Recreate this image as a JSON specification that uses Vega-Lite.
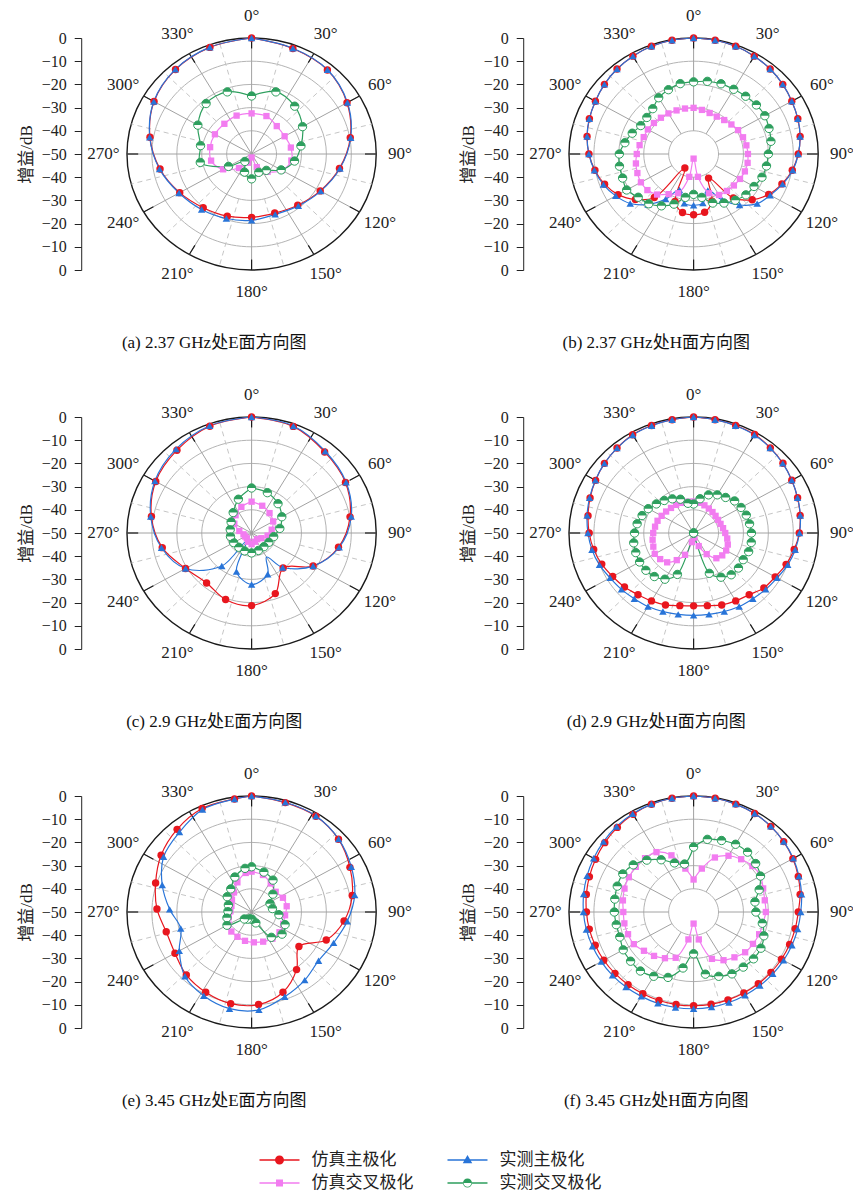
{
"$schema":"https://vega.github.io/schema/vega-lite/v6.json",
"background":"white",
"padding":{"left":17,"top":6,"right":2,"bottom":2},
"config":{
 "view":{"stroke":null},
 "font":"Liberation Serif, Noto Sans CJK SC",
 "axisX":{"disable":true},
 "axisY":{"grid":false,"labelOverlap":false,"domainColor":"#222","tickColor":"#222","tickSize":7,"labelFontSize":16,"labelColor":"#222","labelPadding":8,"titleFontSize":17,"titleFontWeight":"normal","titleColor":"#222","titlePadding":6,"labelFont":"Liberation Serif","titleFont":"Liberation Serif, Noto Sans CJK SC"},
 "header":{"labelFontSize":17,"labelColor":"#111","labelFont":"Liberation Serif, Noto Sans CJK SC"}
},
"datasets":{
"L":[{"s":"SM","src":"仿真","pol":"主极化"},{"s":"MM","src":"实测","pol":"主极化"},{"s":"SX","src":"仿真","pol":"交叉极化"},{"s":"MX","src":"实测","pol":"交叉极化"}],
"d":[
{"p":"a","k":"R","g":0},{"p":"a","k":"R","g":-10},{"p":"a","k":"R","g":-20},{"p":"a","k":"R","g":-30},{"p":"a","k":"R","g":-40},
{"p":"a","k":"S","a":0},{"p":"a","k":"S","a":15},{"p":"a","k":"S","a":30},{"p":"a","k":"S","a":45},{"p":"a","k":"S","a":60},{"p":"a","k":"S","a":75},{"p":"a","k":"S","a":90},{"p":"a","k":"S","a":105},{"p":"a","k":"S","a":120},{"p":"a","k":"S","a":135},{"p":"a","k":"S","a":150},{"p":"a","k":"S","a":165},{"p":"a","k":"S","a":180},{"p":"a","k":"S","a":195},{"p":"a","k":"S","a":210},{"p":"a","k":"S","a":225},{"p":"a","k":"S","a":240},{"p":"a","k":"S","a":255},{"p":"a","k":"S","a":270},{"p":"a","k":"S","a":285},{"p":"a","k":"S","a":300},{"p":"a","k":"S","a":315},{"p":"a","k":"S","a":330},{"p":"a","k":"S","a":345},
{"p":"b","k":"R","g":0},{"p":"b","k":"R","g":-10},{"p":"b","k":"R","g":-20},{"p":"b","k":"R","g":-30},{"p":"b","k":"R","g":-40},
{"p":"b","k":"S","a":0},{"p":"b","k":"S","a":15},{"p":"b","k":"S","a":30},{"p":"b","k":"S","a":45},{"p":"b","k":"S","a":60},{"p":"b","k":"S","a":75},{"p":"b","k":"S","a":90},{"p":"b","k":"S","a":105},{"p":"b","k":"S","a":120},{"p":"b","k":"S","a":135},{"p":"b","k":"S","a":150},{"p":"b","k":"S","a":165},{"p":"b","k":"S","a":180},{"p":"b","k":"S","a":195},{"p":"b","k":"S","a":210},{"p":"b","k":"S","a":225},{"p":"b","k":"S","a":240},{"p":"b","k":"S","a":255},{"p":"b","k":"S","a":270},{"p":"b","k":"S","a":285},{"p":"b","k":"S","a":300},{"p":"b","k":"S","a":315},{"p":"b","k":"S","a":330},{"p":"b","k":"S","a":345},
{"p":"c","k":"R","g":0},{"p":"c","k":"R","g":-10},{"p":"c","k":"R","g":-20},{"p":"c","k":"R","g":-30},{"p":"c","k":"R","g":-40},
{"p":"c","k":"S","a":0},{"p":"c","k":"S","a":15},{"p":"c","k":"S","a":30},{"p":"c","k":"S","a":45},{"p":"c","k":"S","a":60},{"p":"c","k":"S","a":75},{"p":"c","k":"S","a":90},{"p":"c","k":"S","a":105},{"p":"c","k":"S","a":120},{"p":"c","k":"S","a":135},{"p":"c","k":"S","a":150},{"p":"c","k":"S","a":165},{"p":"c","k":"S","a":180},{"p":"c","k":"S","a":195},{"p":"c","k":"S","a":210},{"p":"c","k":"S","a":225},{"p":"c","k":"S","a":240},{"p":"c","k":"S","a":255},{"p":"c","k":"S","a":270},{"p":"c","k":"S","a":285},{"p":"c","k":"S","a":300},{"p":"c","k":"S","a":315},{"p":"c","k":"S","a":330},{"p":"c","k":"S","a":345},
{"p":"d","k":"R","g":0},{"p":"d","k":"R","g":-10},{"p":"d","k":"R","g":-20},{"p":"d","k":"R","g":-30},{"p":"d","k":"R","g":-40},
{"p":"d","k":"S","a":0},{"p":"d","k":"S","a":15},{"p":"d","k":"S","a":30},{"p":"d","k":"S","a":45},{"p":"d","k":"S","a":60},{"p":"d","k":"S","a":75},{"p":"d","k":"S","a":90},{"p":"d","k":"S","a":105},{"p":"d","k":"S","a":120},{"p":"d","k":"S","a":135},{"p":"d","k":"S","a":150},{"p":"d","k":"S","a":165},{"p":"d","k":"S","a":180},{"p":"d","k":"S","a":195},{"p":"d","k":"S","a":210},{"p":"d","k":"S","a":225},{"p":"d","k":"S","a":240},{"p":"d","k":"S","a":255},{"p":"d","k":"S","a":270},{"p":"d","k":"S","a":285},{"p":"d","k":"S","a":300},{"p":"d","k":"S","a":315},{"p":"d","k":"S","a":330},{"p":"d","k":"S","a":345},
{"p":"e","k":"R","g":0},{"p":"e","k":"R","g":-10},{"p":"e","k":"R","g":-20},{"p":"e","k":"R","g":-30},{"p":"e","k":"R","g":-40},
{"p":"e","k":"S","a":0},{"p":"e","k":"S","a":15},{"p":"e","k":"S","a":30},{"p":"e","k":"S","a":45},{"p":"e","k":"S","a":60},{"p":"e","k":"S","a":75},{"p":"e","k":"S","a":90},{"p":"e","k":"S","a":105},{"p":"e","k":"S","a":120},{"p":"e","k":"S","a":135},{"p":"e","k":"S","a":150},{"p":"e","k":"S","a":165},{"p":"e","k":"S","a":180},{"p":"e","k":"S","a":195},{"p":"e","k":"S","a":210},{"p":"e","k":"S","a":225},{"p":"e","k":"S","a":240},{"p":"e","k":"S","a":255},{"p":"e","k":"S","a":270},{"p":"e","k":"S","a":285},{"p":"e","k":"S","a":300},{"p":"e","k":"S","a":315},{"p":"e","k":"S","a":330},{"p":"e","k":"S","a":345},
{"p":"f","k":"R","g":0},{"p":"f","k":"R","g":-10},{"p":"f","k":"R","g":-20},{"p":"f","k":"R","g":-30},{"p":"f","k":"R","g":-40},
{"p":"f","k":"S","a":0},{"p":"f","k":"S","a":15},{"p":"f","k":"S","a":30},{"p":"f","k":"S","a":45},{"p":"f","k":"S","a":60},{"p":"f","k":"S","a":75},{"p":"f","k":"S","a":90},{"p":"f","k":"S","a":105},{"p":"f","k":"S","a":120},{"p":"f","k":"S","a":135},{"p":"f","k":"S","a":150},{"p":"f","k":"S","a":165},{"p":"f","k":"S","a":180},{"p":"f","k":"S","a":195},{"p":"f","k":"S","a":210},{"p":"f","k":"S","a":225},{"p":"f","k":"S","a":240},{"p":"f","k":"S","a":255},{"p":"f","k":"S","a":270},{"p":"f","k":"S","a":285},{"p":"f","k":"S","a":300},{"p":"f","k":"S","a":315},{"p":"f","k":"S","a":330},{"p":"f","k":"S","a":345},

{"p":"a","s":"SM","a":0,"g":0},{"p":"a","s":"SM","a":20,"g":-1.6},{"p":"a","s":"SM","a":40,"g":-2.7},{"p":"a","s":"SM","a":60,"g":-5.8},{"p":"a","s":"SM","a":80,"g":-9.8},{"p":"a","s":"SM","a":100,"g":-14.2},{"p":"a","s":"SM","a":120,"g":-18.2},{"p":"a","s":"SM","a":140,"g":-21.2},{"p":"a","s":"SM","a":160,"g":-22.9},{"p":"a","s":"SM","a":180,"g":-22.7},{"p":"a","s":"SM","a":200,"g":-21.5},{"p":"a","s":"SM","a":220,"g":-19.8},{"p":"a","s":"SM","a":240,"g":-16.7},{"p":"a","s":"SM","a":260,"g":-12.7},{"p":"a","s":"SM","a":280,"g":-8.6},{"p":"a","s":"SM","a":300,"g":-4.8},{"p":"a","s":"SM","a":320,"g":-2.5},{"p":"a","s":"SM","a":340,"g":-1.1},{"p":"a","s":"SM","a":360,"g":0},
{"p":"a","s":"MM","a":0,"g":0},{"p":"a","s":"MM","a":20,"g":-1.5},{"p":"a","s":"MM","a":40,"g":-2.6},{"p":"a","s":"MM","a":60,"g":-5.6},{"p":"a","s":"MM","a":80,"g":-9.6},{"p":"a","s":"MM","a":100,"g":-14},{"p":"a","s":"MM","a":120,"g":-18},{"p":"a","s":"MM","a":140,"g":-20.8},{"p":"a","s":"MM","a":160,"g":-22.3},{"p":"a","s":"MM","a":180,"g":-21.4},{"p":"a","s":"MM","a":200,"g":-20.4},{"p":"a","s":"MM","a":220,"g":-18.8},{"p":"a","s":"MM","a":240,"g":-16.4},{"p":"a","s":"MM","a":260,"g":-12.5},{"p":"a","s":"MM","a":280,"g":-8.5},{"p":"a","s":"MM","a":300,"g":-4.7},{"p":"a","s":"MM","a":320,"g":-2.4},{"p":"a","s":"MM","a":340,"g":-1},{"p":"a","s":"MM","a":360,"g":0},
{"p":"a","s":"SX","a":0,"g":-32.5},{"p":"a","s":"SX","a":20,"g":-32.6},{"p":"a","s":"SX","a":40,"g":-34.3},{"p":"a","s":"SX","a":60,"g":-34.7},{"p":"a","s":"SX","a":80,"g":-34},{"p":"a","s":"SX","a":100,"g":-33.8},{"p":"a","s":"SX","a":120,"g":-36},{"p":"a","s":"SX","a":140,"g":-40},{"p":"a","s":"SX","a":160,"g":-44},{"p":"a","s":"SX","a":180,"g":-48.5},{"p":"a","s":"SX","a":200,"g":-46},{"p":"a","s":"SX","a":220,"g":-42.1},{"p":"a","s":"SX","a":240,"g":-36.8},{"p":"a","s":"SX","a":260,"g":-33.5},{"p":"a","s":"SX","a":280,"g":-33.1},{"p":"a","s":"SX","a":300,"g":-33},{"p":"a","s":"SX","a":320,"g":-33},{"p":"a","s":"SX","a":340,"g":-32.4},{"p":"a","s":"SX","a":360,"g":-32.5},
{"p":"a","s":"MX","a":0,"g":-25},{"p":"a","s":"MX","a":20,"g":-21.5},{"p":"a","s":"MX","a":40,"g":-23.1},{"p":"a","s":"MX","a":60,"g":-26.4},{"p":"a","s":"MX","a":80,"g":-29.9},{"p":"a","s":"MX","a":100,"g":-32.5},{"p":"a","s":"MX","a":120,"g":-36.3},{"p":"a","s":"MX","a":140,"g":-40.8},{"p":"a","s":"MX","a":160,"g":-41.6},{"p":"a","s":"MX","a":180,"g":-39.3},{"p":"a","s":"MX","a":200,"g":-41.7},{"p":"a","s":"MX","a":220,"g":-45.8},{"p":"a","s":"MX","a":240,"g":-39.3},{"p":"a","s":"MX","a":260,"g":-29.1},{"p":"a","s":"MX","a":280,"g":-29.2},{"p":"a","s":"MX","a":300,"g":-25.1},{"p":"a","s":"MX","a":320,"g":-21.6},{"p":"a","s":"MX","a":340,"g":-21.5},{"p":"a","s":"MX","a":360,"g":-25},

{"p":"b","s":"SM","a":0,"g":0},{"p":"b","s":"SM","a":10,"g":-0.2},{"p":"b","s":"SM","a":20,"g":-0.6},{"p":"b","s":"SM","a":30,"g":-1.3},{"p":"b","s":"SM","a":40,"g":-2.2},{"p":"b","s":"SM","a":50,"g":-3.3},{"p":"b","s":"SM","a":60,"g":-4.5},{"p":"b","s":"SM","a":70,"g":-5.5},{"p":"b","s":"SM","a":80,"g":-6.6},{"p":"b","s":"SM","a":90,"g":-8},{"p":"b","s":"SM","a":100,"g":-9.8},{"p":"b","s":"SM","a":110,"g":-12.3},{"p":"b","s":"SM","a":120,"g":-15.2},{"p":"b","s":"SM","a":130,"g":-19.3},{"p":"b","s":"SM","a":140,"g":-25.2},{"p":"b","s":"SM","a":150,"g":-38},{"p":"b","s":"SM","a":160,"g":-28.4},{"p":"b","s":"SM","a":170,"g":-24.5},{"p":"b","s":"SM","a":180,"g":-23.8},{"p":"b","s":"SM","a":190,"g":-24.4},{"p":"b","s":"SM","a":200,"g":-28.2},{"p":"b","s":"SM","a":210,"g":-43},{"p":"b","s":"SM","a":220,"g":-25.5},{"p":"b","s":"SM","a":230,"g":-19.5},{"p":"b","s":"SM","a":240,"g":-15},{"p":"b","s":"SM","a":250,"g":-12},{"p":"b","s":"SM","a":260,"g":-9.8},{"p":"b","s":"SM","a":270,"g":-8},{"p":"b","s":"SM","a":280,"g":-6.6},{"p":"b","s":"SM","a":290,"g":-5.5},{"p":"b","s":"SM","a":300,"g":-4.5},{"p":"b","s":"SM","a":310,"g":-3.3},{"p":"b","s":"SM","a":320,"g":-2.2},{"p":"b","s":"SM","a":330,"g":-1.3},{"p":"b","s":"SM","a":340,"g":-0.6},{"p":"b","s":"SM","a":350,"g":-0.2},{"p":"b","s":"SM","a":360,"g":0},
{"p":"b","s":"MM","a":0,"g":0},{"p":"b","s":"MM","a":10,"g":-0.2},{"p":"b","s":"MM","a":20,"g":-0.6},{"p":"b","s":"MM","a":30,"g":-1.3},{"p":"b","s":"MM","a":40,"g":-2.2},{"p":"b","s":"MM","a":50,"g":-3.3},{"p":"b","s":"MM","a":60,"g":-4.5},{"p":"b","s":"MM","a":70,"g":-5.5},{"p":"b","s":"MM","a":80,"g":-6.6},{"p":"b","s":"MM","a":90,"g":-8},{"p":"b","s":"MM","a":100,"g":-9.6},{"p":"b","s":"MM","a":110,"g":-12},{"p":"b","s":"MM","a":120,"g":-14.5},{"p":"b","s":"MM","a":130,"g":-16.7},{"p":"b","s":"MM","a":140,"g":-21.3},{"p":"b","s":"MM","a":150,"g":-27.1},{"p":"b","s":"MM","a":160,"g":-33.3},{"p":"b","s":"MM","a":170,"g":-28.5},{"p":"b","s":"MM","a":180,"g":-27.9},{"p":"b","s":"MM","a":190,"g":-28.4},{"p":"b","s":"MM","a":200,"g":-33.5},{"p":"b","s":"MM","a":210,"g":-27.6},{"p":"b","s":"MM","a":220,"g":-21.6},{"p":"b","s":"MM","a":230,"g":-16.8},{"p":"b","s":"MM","a":240,"g":-13.9},{"p":"b","s":"MM","a":250,"g":-11.5},{"p":"b","s":"MM","a":260,"g":-9.6},{"p":"b","s":"MM","a":270,"g":-8},{"p":"b","s":"MM","a":280,"g":-6.6},{"p":"b","s":"MM","a":290,"g":-5.5},{"p":"b","s":"MM","a":300,"g":-4.5},{"p":"b","s":"MM","a":310,"g":-3.3},{"p":"b","s":"MM","a":320,"g":-2.2},{"p":"b","s":"MM","a":330,"g":-1.3},{"p":"b","s":"MM","a":340,"g":-0.6},{"p":"b","s":"MM","a":350,"g":-0.2},{"p":"b","s":"MM","a":360,"g":0},
{"p":"b","s":"SX","a":0,"g":-30.1},{"p":"b","s":"SX","a":10,"g":-30.7},{"p":"b","s":"SX","a":20,"g":-31.2},{"p":"b","s":"SX","a":30,"g":-31.4},{"p":"b","s":"SX","a":40,"g":-30.9},{"p":"b","s":"SX","a":50,"g":-30.2},{"p":"b","s":"SX","a":60,"g":-29.4},{"p":"b","s":"SX","a":70,"g":-28.9},{"p":"b","s":"SX","a":80,"g":-28.5},{"p":"b","s":"SX","a":90,"g":-28.2},{"p":"b","s":"SX","a":100,"g":-28},{"p":"b","s":"SX","a":110,"g":-28.1},{"p":"b","s":"SX","a":120,"g":-28.5},{"p":"b","s":"SX","a":130,"g":-28.9},{"p":"b","s":"SX","a":140,"g":-29.2},{"p":"b","s":"SX","a":150,"g":-29.6},{"p":"b","s":"SX","a":160,"g":-32},{"p":"b","s":"SX","a":170,"g":-40},{"p":"b","s":"SX","a":180,"g":-48},{"p":"b","s":"SX","a":190,"g":-40},{"p":"b","s":"SX","a":200,"g":-32},{"p":"b","s":"SX","a":210,"g":-30},{"p":"b","s":"SX","a":220,"g":-27.2},{"p":"b","s":"SX","a":230,"g":-25.8},{"p":"b","s":"SX","a":240,"g":-25.6},{"p":"b","s":"SX","a":250,"g":-26},{"p":"b","s":"SX","a":260,"g":-26.5},{"p":"b","s":"SX","a":270,"g":-27.2},{"p":"b","s":"SX","a":280,"g":-28},{"p":"b","s":"SX","a":290,"g":-28.7},{"p":"b","s":"SX","a":300,"g":-28.8},{"p":"b","s":"SX","a":310,"g":-29.2},{"p":"b","s":"SX","a":320,"g":-29.6},{"p":"b","s":"SX","a":330,"g":-29.8},{"p":"b","s":"SX","a":340,"g":-30},{"p":"b","s":"SX","a":350,"g":-30.1},{"p":"b","s":"SX","a":360,"g":-30.1},
{"p":"b","s":"MX","a":0,"g":-18.9},{"p":"b","s":"MX","a":10,"g":-18.2},{"p":"b","s":"MX","a":20,"g":-17.8},{"p":"b","s":"MX","a":30,"g":-17.8},{"p":"b","s":"MX","a":40,"g":-17.5},{"p":"b","s":"MX","a":50,"g":-17.1},{"p":"b","s":"MX","a":60,"g":-17},{"p":"b","s":"MX","a":70,"g":-17.8},{"p":"b","s":"MX","a":80,"g":-18.5},{"p":"b","s":"MX","a":90,"g":-20},{"p":"b","s":"MX","a":100,"g":-20.3},{"p":"b","s":"MX","a":110,"g":-20.8},{"p":"b","s":"MX","a":120,"g":-22},{"p":"b","s":"MX","a":130,"g":-22.6},{"p":"b","s":"MX","a":140,"g":-24},{"p":"b","s":"MX","a":150,"g":-25.6},{"p":"b","s":"MX","a":160,"g":-27.5},{"p":"b","s":"MX","a":170,"g":-31},{"p":"b","s":"MX","a":180,"g":-32.6},{"p":"b","s":"MX","a":190,"g":-31},{"p":"b","s":"MX","a":200,"g":-27},{"p":"b","s":"MX","a":210,"g":-24.2},{"p":"b","s":"MX","a":220,"g":-22},{"p":"b","s":"MX","a":230,"g":-21},{"p":"b","s":"MX","a":240,"g":-19},{"p":"b","s":"MX","a":250,"g":-19.7},{"p":"b","s":"MX","a":260,"g":-19.8},{"p":"b","s":"MX","a":270,"g":-20.2},{"p":"b","s":"MX","a":280,"g":-22},{"p":"b","s":"MX","a":290,"g":-23.8},{"p":"b","s":"MX","a":300,"g":-25.5},{"p":"b","s":"MX","a":310,"g":-25.5},{"p":"b","s":"MX","a":320,"g":-24.5},{"p":"b","s":"MX","a":330,"g":-22},{"p":"b","s":"MX","a":340,"g":-20.5},{"p":"b","s":"MX","a":350,"g":-19.2},{"p":"b","s":"MX","a":360,"g":-18.9},

{"p":"c","s":"SM","a":0,"g":0},{"p":"c","s":"SM","a":20,"g":-1.1},{"p":"c","s":"SM","a":40,"g":-4.4},{"p":"c","s":"SM","a":60,"g":-6.5},{"p":"c","s":"SM","a":80,"g":-9.9},{"p":"c","s":"SM","a":100,"g":-14.6},{"p":"c","s":"SM","a":120,"g":-21.5},{"p":"c","s":"SM","a":140,"g":-30.3},{"p":"c","s":"SM","a":160,"g":-22.2},{"p":"c","s":"SM","a":180,"g":-18.7},{"p":"c","s":"SM","a":200,"g":-19.5},{"p":"c","s":"SM","a":220,"g":-21.9},{"p":"c","s":"SM","a":240,"g":-19.4},{"p":"c","s":"SM","a":260,"g":-13.6},{"p":"c","s":"SM","a":280,"g":-9.2},{"p":"c","s":"SM","a":300,"g":-5.6},{"p":"c","s":"SM","a":320,"g":-3.4},{"p":"c","s":"SM","a":340,"g":-1},{"p":"c","s":"SM","a":360,"g":0},
{"p":"c","s":"MM","a":0,"g":0},{"p":"c","s":"MM","a":20,"g":-0.9},{"p":"c","s":"MM","a":40,"g":-4},{"p":"c","s":"MM","a":60,"g":-6.2},{"p":"c","s":"MM","a":80,"g":-9.4},{"p":"c","s":"MM","a":100,"g":-14.3},{"p":"c","s":"MM","a":120,"g":-21.5},{"p":"c","s":"MM","a":140,"g":-30.6},{"p":"c","s":"MM","a":150,"g":-38},{"p":"c","s":"MM","a":160,"g":-31.1},{"p":"c","s":"MM","a":180,"g":-27.8},{"p":"c","s":"MM","a":200,"g":-32.3},{"p":"c","s":"MM","a":210,"g":-46},{"p":"c","s":"MM","a":220,"g":-31.4},{"p":"c","s":"MM","a":240,"g":-19.4},{"p":"c","s":"MM","a":260,"g":-13.3},{"p":"c","s":"MM","a":280,"g":-8.9},{"p":"c","s":"MM","a":300,"g":-5.2},{"p":"c","s":"MM","a":320,"g":-2.8},{"p":"c","s":"MM","a":340,"g":-0.8},{"p":"c","s":"MM","a":360,"g":0},
{"p":"c","s":"SX","a":0,"g":-36.5},{"p":"c","s":"SX","a":20,"g":-37.5},{"p":"c","s":"SX","a":40,"g":-38.8},{"p":"c","s":"SX","a":60,"g":-40},{"p":"c","s":"SX","a":80,"g":-41.8},{"p":"c","s":"SX","a":100,"g":-43.5},{"p":"c","s":"SX","a":120,"g":-45.5},{"p":"c","s":"SX","a":140,"g":-46.5},{"p":"c","s":"SX","a":160,"g":-46},{"p":"c","s":"SX","a":180,"g":-45.2},{"p":"c","s":"SX","a":200,"g":-46},{"p":"c","s":"SX","a":220,"g":-47},{"p":"c","s":"SX","a":240,"g":-47},{"p":"c","s":"SX","a":260,"g":-46.7},{"p":"c","s":"SX","a":280,"g":-45},{"p":"c","s":"SX","a":300,"g":-42},{"p":"c","s":"SX","a":320,"g":-40},{"p":"c","s":"SX","a":340,"g":-38},{"p":"c","s":"SX","a":360,"g":-36.5},
{"p":"c","s":"MX","a":0,"g":-30.6},{"p":"c","s":"MX","a":20,"g":-31.5},{"p":"c","s":"MX","a":40,"g":-33.5},{"p":"c","s":"MX","a":60,"g":-36},{"p":"c","s":"MX","a":80,"g":-38.5},{"p":"c","s":"MX","a":100,"g":-41},{"p":"c","s":"MX","a":120,"g":-42},{"p":"c","s":"MX","a":140,"g":-42.3},{"p":"c","s":"MX","a":160,"g":-42},{"p":"c","s":"MX","a":180,"g":-41.4},{"p":"c","s":"MX","a":200,"g":-41.8},{"p":"c","s":"MX","a":220,"g":-42},{"p":"c","s":"MX","a":240,"g":-41.7},{"p":"c","s":"MX","a":260,"g":-41.4},{"p":"c","s":"MX","a":280,"g":-41.3},{"p":"c","s":"MX","a":300,"g":-40.5},{"p":"c","s":"MX","a":320,"g":-38.5},{"p":"c","s":"MX","a":340,"g":-34.5},{"p":"c","s":"MX","a":360,"g":-30.6},

{"p":"d","s":"SM","a":0,"g":0},{"p":"d","s":"SM","a":10,"g":-0.4},{"p":"d","s":"SM","a":20,"g":-0.7},{"p":"d","s":"SM","a":30,"g":-1},{"p":"d","s":"SM","a":40,"g":-2.1},{"p":"d","s":"SM","a":50,"g":-3.2},{"p":"d","s":"SM","a":60,"g":-4.5},{"p":"d","s":"SM","a":70,"g":-5.6},{"p":"d","s":"SM","a":80,"g":-6.6},{"p":"d","s":"SM","a":90,"g":-7.6},{"p":"d","s":"SM","a":100,"g":-9},{"p":"d","s":"SM","a":110,"g":-10.5},{"p":"d","s":"SM","a":120,"g":-12.2},{"p":"d","s":"SM","a":130,"g":-13.2},{"p":"d","s":"SM","a":140,"g":-15.3},{"p":"d","s":"SM","a":150,"g":-16.2},{"p":"d","s":"SM","a":160,"g":-17},{"p":"d","s":"SM","a":170,"g":-18.2},{"p":"d","s":"SM","a":180,"g":-18.6},{"p":"d","s":"SM","a":190,"g":-18.2},{"p":"d","s":"SM","a":200,"g":-17},{"p":"d","s":"SM","a":210,"g":-16.2},{"p":"d","s":"SM","a":220,"g":-15.3},{"p":"d","s":"SM","a":230,"g":-13.8},{"p":"d","s":"SM","a":240,"g":-12.5},{"p":"d","s":"SM","a":250,"g":-10.8},{"p":"d","s":"SM","a":260,"g":-9.3},{"p":"d","s":"SM","a":270,"g":-8.1},{"p":"d","s":"SM","a":280,"g":-7},{"p":"d","s":"SM","a":290,"g":-5.8},{"p":"d","s":"SM","a":300,"g":-4.6},{"p":"d","s":"SM","a":310,"g":-3.3},{"p":"d","s":"SM","a":320,"g":-2.2},{"p":"d","s":"SM","a":330,"g":-1.1},{"p":"d","s":"SM","a":340,"g":-0.7},{"p":"d","s":"SM","a":350,"g":-0.4},{"p":"d","s":"SM","a":360,"g":0},
{"p":"d","s":"MM","a":0,"g":0},{"p":"d","s":"MM","a":10,"g":-0.4},{"p":"d","s":"MM","a":20,"g":-0.8},{"p":"d","s":"MM","a":30,"g":-1.2},{"p":"d","s":"MM","a":40,"g":-2.2},{"p":"d","s":"MM","a":50,"g":-3.3},{"p":"d","s":"MM","a":60,"g":-4.5},{"p":"d","s":"MM","a":70,"g":-5.6},{"p":"d","s":"MM","a":80,"g":-6.5},{"p":"d","s":"MM","a":90,"g":-7.5},{"p":"d","s":"MM","a":100,"g":-8.6},{"p":"d","s":"MM","a":110,"g":-9.8},{"p":"d","s":"MM","a":120,"g":-11.3},{"p":"d","s":"MM","a":130,"g":-12.2},{"p":"d","s":"MM","a":140,"g":-13},{"p":"d","s":"MM","a":150,"g":-13.4},{"p":"d","s":"MM","a":160,"g":-14},{"p":"d","s":"MM","a":170,"g":-14.4},{"p":"d","s":"MM","a":180,"g":-14.5},{"p":"d","s":"MM","a":190,"g":-14.4},{"p":"d","s":"MM","a":200,"g":-14},{"p":"d","s":"MM","a":210,"g":-13.4},{"p":"d","s":"MM","a":220,"g":-13},{"p":"d","s":"MM","a":230,"g":-12.2},{"p":"d","s":"MM","a":240,"g":-11.3},{"p":"d","s":"MM","a":250,"g":-9.8},{"p":"d","s":"MM","a":260,"g":-8.6},{"p":"d","s":"MM","a":270,"g":-7.6},{"p":"d","s":"MM","a":280,"g":-6.6},{"p":"d","s":"MM","a":290,"g":-5.6},{"p":"d","s":"MM","a":300,"g":-4.5},{"p":"d","s":"MM","a":310,"g":-3.3},{"p":"d","s":"MM","a":320,"g":-2.2},{"p":"d","s":"MM","a":330,"g":-1.2},{"p":"d","s":"MM","a":340,"g":-0.8},{"p":"d","s":"MM","a":350,"g":-0.4},{"p":"d","s":"MM","a":360,"g":0},
{"p":"d","s":"SX","a":0,"g":-36.4},{"p":"d","s":"SX","a":10,"g":-36.8},{"p":"d","s":"SX","a":20,"g":-37.3},{"p":"d","s":"SX","a":30,"g":-37.8},{"p":"d","s":"SX","a":40,"g":-38.2},{"p":"d","s":"SX","a":50,"g":-38.5},{"p":"d","s":"SX","a":60,"g":-38.7},{"p":"d","s":"SX","a":70,"g":-38.5},{"p":"d","s":"SX","a":80,"g":-38},{"p":"d","s":"SX","a":90,"g":-37.3},{"p":"d","s":"SX","a":100,"g":-36.3},{"p":"d","s":"SX","a":110,"g":-35.4},{"p":"d","s":"SX","a":120,"g":-34.9},{"p":"d","s":"SX","a":130,"g":-35},{"p":"d","s":"SX","a":140,"g":-35.8},{"p":"d","s":"SX","a":150,"g":-39.5},{"p":"d","s":"SX","a":160,"g":-44},{"p":"d","s":"SX","a":170,"g":-48},{"p":"d","s":"SX","a":180,"g":-50},{"p":"d","s":"SX","a":190,"g":-46},{"p":"d","s":"SX","a":200,"g":-40},{"p":"d","s":"SX","a":210,"g":-36.5},{"p":"d","s":"SX","a":220,"g":-33.5},{"p":"d","s":"SX","a":230,"g":-32.5},{"p":"d","s":"SX","a":240,"g":-32},{"p":"d","s":"SX","a":250,"g":-32.8},{"p":"d","s":"SX","a":260,"g":-33.3},{"p":"d","s":"SX","a":270,"g":-33.8},{"p":"d","s":"SX","a":280,"g":-34.3},{"p":"d","s":"SX","a":290,"g":-34.6},{"p":"d","s":"SX","a":300,"g":-35.2},{"p":"d","s":"SX","a":310,"g":-35.6},{"p":"d","s":"SX","a":320,"g":-35.9},{"p":"d","s":"SX","a":330,"g":-36},{"p":"d","s":"SX","a":340,"g":-36.2},{"p":"d","s":"SX","a":350,"g":-36.3},{"p":"d","s":"SX","a":360,"g":-36.4},
{"p":"d","s":"MX","a":0,"g":-37.5},{"p":"d","s":"MX","a":10,"g":-35},{"p":"d","s":"MX","a":20,"g":-32.5},{"p":"d","s":"MX","a":30,"g":-31},{"p":"d","s":"MX","a":40,"g":-30},{"p":"d","s":"MX","a":50,"g":-28.5},{"p":"d","s":"MX","a":60,"g":-28},{"p":"d","s":"MX","a":70,"g":-27.5},{"p":"d","s":"MX","a":80,"g":-27.2},{"p":"d","s":"MX","a":90,"g":-26.8},{"p":"d","s":"MX","a":100,"g":-26.5},{"p":"d","s":"MX","a":110,"g":-26.5},{"p":"d","s":"MX","a":120,"g":-27},{"p":"d","s":"MX","a":130,"g":-26.5},{"p":"d","s":"MX","a":140,"g":-26.5},{"p":"d","s":"MX","a":150,"g":-28},{"p":"d","s":"MX","a":160,"g":-31.5},{"p":"d","s":"MX","a":170,"g":-50},{"p":"d","s":"MX","a":180,"g":-50},{"p":"d","s":"MX","a":190,"g":-50},{"p":"d","s":"MX","a":200,"g":-31},{"p":"d","s":"MX","a":210,"g":-27},{"p":"d","s":"MX","a":220,"g":-25.5},{"p":"d","s":"MX","a":230,"g":-25},{"p":"d","s":"MX","a":240,"g":-25},{"p":"d","s":"MX","a":250,"g":-25.3},{"p":"d","s":"MX","a":260,"g":-25.6},{"p":"d","s":"MX","a":270,"g":-26.3},{"p":"d","s":"MX","a":280,"g":-27},{"p":"d","s":"MX","a":290,"g":-28},{"p":"d","s":"MX","a":300,"g":-29},{"p":"d","s":"MX","a":310,"g":-30.5},{"p":"d","s":"MX","a":320,"g":-31.7},{"p":"d","s":"MX","a":330,"g":-33},{"p":"d","s":"MX","a":340,"g":-34.5},{"p":"d","s":"MX","a":350,"g":-37},{"p":"d","s":"MX","a":360,"g":-37.5},

{"p":"e","s":"SM","a":0,"g":0},{"p":"e","s":"SM","a":16,"g":-0.95},{"p":"e","s":"SM","a":32,"g":-1.3},{"p":"e","s":"SM","a":48,"g":-3.1},{"p":"e","s":"SM","a":64,"g":-6.1},{"p":"e","s":"SM","a":80,"g":-9},{"p":"e","s":"SM","a":96,"g":-12.7},{"p":"e","s":"SM","a":112,"g":-17.7},{"p":"e","s":"SM","a":128,"g":-25.9},{"p":"e","s":"SM","a":144,"g":-19.3},{"p":"e","s":"SM","a":160,"g":-13.2},{"p":"e","s":"SM","a":176,"g":-10},{"p":"e","s":"SM","a":192,"g":-9.6},{"p":"e","s":"SM","a":208,"g":-10.8},{"p":"e","s":"SM","a":224,"g":-12.3},{"p":"e","s":"SM","a":240,"g":-14.5},{"p":"e","s":"SM","a":256,"g":-14.7},{"p":"e","s":"SM","a":272,"g":-12},{"p":"e","s":"SM","a":288,"g":-9.5},{"p":"e","s":"SM","a":304,"g":-6.2},{"p":"e","s":"SM","a":320,"g":-3.5},{"p":"e","s":"SM","a":336,"g":-1.2},{"p":"e","s":"SM","a":352,"g":-0.8},{"p":"e","s":"SM","a":360,"g":0},
{"p":"e","s":"MM","a":0,"g":0},{"p":"e","s":"MM","a":16,"g":-0.8},{"p":"e","s":"MM","a":32,"g":-1.2},{"p":"e","s":"MM","a":48,"g":-3},{"p":"e","s":"MM","a":64,"g":-5.5},{"p":"e","s":"MM","a":80,"g":-8},{"p":"e","s":"MM","a":96,"g":-11.4},{"p":"e","s":"MM","a":112,"g":-14.5},{"p":"e","s":"MM","a":128,"g":-15.9},{"p":"e","s":"MM","a":144,"g":-13.7},{"p":"e","s":"MM","a":160,"g":-11.1},{"p":"e","s":"MM","a":176,"g":-7.7},{"p":"e","s":"MM","a":192,"g":-7.4},{"p":"e","s":"MM","a":208,"g":-9.1},{"p":"e","s":"MM","a":224,"g":-11.5},{"p":"e","s":"MM","a":240,"g":-16.5},{"p":"e","s":"MM","a":256,"g":-20.7},{"p":"e","s":"MM","a":272,"g":-17.1},{"p":"e","s":"MM","a":288,"g":-12.3},{"p":"e","s":"MM","a":304,"g":-7.4},{"p":"e","s":"MM","a":320,"g":-5},{"p":"e","s":"MM","a":336,"g":-1.6},{"p":"e","s":"MM","a":352,"g":-0.8},{"p":"e","s":"MM","a":360,"g":0},
{"p":"e","s":"SX","a":0,"g":-32.6},{"p":"e","s":"SX","a":16,"g":-33.4},{"p":"e","s":"SX","a":32,"g":-35.5},{"p":"e","s":"SX","a":48,"g":-37},{"p":"e","s":"SX","a":64,"g":-36},{"p":"e","s":"SX","a":80,"g":-35.7},{"p":"e","s":"SX","a":96,"g":-36.5},{"p":"e","s":"SX","a":112,"g":-36.3},{"p":"e","s":"SX","a":128,"g":-35.8},{"p":"e","s":"SX","a":144,"g":-35.8},{"p":"e","s":"SX","a":160,"g":-36.4},{"p":"e","s":"SX","a":176,"g":-36.9},{"p":"e","s":"SX","a":192,"g":-37.3},{"p":"e","s":"SX","a":208,"g":-37.9},{"p":"e","s":"SX","a":224,"g":-38.3},{"p":"e","s":"SX","a":240,"g":-39.3},{"p":"e","s":"SX","a":256,"g":-40.6},{"p":"e","s":"SX","a":272,"g":-41.5},{"p":"e","s":"SX","a":288,"g":-41.5},{"p":"e","s":"SX","a":304,"g":-40.5},{"p":"e","s":"SX","a":320,"g":-39},{"p":"e","s":"SX","a":336,"g":-36},{"p":"e","s":"SX","a":352,"g":-33},{"p":"e","s":"SX","a":360,"g":-32.6},
{"p":"e","s":"MX","a":0,"g":-30.5},{"p":"e","s":"MX","a":16,"g":-32.1},{"p":"e","s":"MX","a":32,"g":-33.8},{"p":"e","s":"MX","a":48,"g":-38.5},{"p":"e","s":"MX","a":64,"g":-41.8},{"p":"e","s":"MX","a":80,"g":-41.5},{"p":"e","s":"MX","a":96,"g":-39},{"p":"e","s":"MX","a":112,"g":-35.5},{"p":"e","s":"MX","a":128,"g":-34.5},{"p":"e","s":"MX","a":144,"g":-36.5},{"p":"e","s":"MX","a":160,"g":-45},{"p":"e","s":"MX","a":176,"g":-46.8},{"p":"e","s":"MX","a":192,"g":-47},{"p":"e","s":"MX","a":208,"g":-46.5},{"p":"e","s":"MX","a":224,"g":-45.8},{"p":"e","s":"MX","a":240,"g":-38.6},{"p":"e","s":"MX","a":256,"g":-39.8},{"p":"e","s":"MX","a":272,"g":-40.5},{"p":"e","s":"MX","a":288,"g":-40.2},{"p":"e","s":"MX","a":304,"g":-38.2},{"p":"e","s":"MX","a":320,"g":-37},{"p":"e","s":"MX","a":336,"g":-33.5},{"p":"e","s":"MX","a":352,"g":-31},{"p":"e","s":"MX","a":360,"g":-30.5},

{"p":"f","s":"SM","a":0,"g":0},{"p":"f","s":"SM","a":10,"g":-0.2},{"p":"f","s":"SM","a":20,"g":-0.5},{"p":"f","s":"SM","a":30,"g":-1},{"p":"f","s":"SM","a":40,"g":-1.8},{"p":"f","s":"SM","a":50,"g":-2.8},{"p":"f","s":"SM","a":60,"g":-4},{"p":"f","s":"SM","a":70,"g":-5.3},{"p":"f","s":"SM","a":80,"g":-6.6},{"p":"f","s":"SM","a":90,"g":-8},{"p":"f","s":"SM","a":100,"g":-8.6},{"p":"f","s":"SM","a":110,"g":-9},{"p":"f","s":"SM","a":120,"g":-9.3},{"p":"f","s":"SM","a":130,"g":-9.5},{"p":"f","s":"SM","a":140,"g":-9.6},{"p":"f","s":"SM","a":150,"g":-9.7},{"p":"f","s":"SM","a":160,"g":-9.7},{"p":"f","s":"SM","a":170,"g":-9.6},{"p":"f","s":"SM","a":180,"g":-9.6},{"p":"f","s":"SM","a":190,"g":-9.5},{"p":"f","s":"SM","a":200,"g":-9.4},{"p":"f","s":"SM","a":210,"g":-9.3},{"p":"f","s":"SM","a":220,"g":-9.1},{"p":"f","s":"SM","a":230,"g":-8.8},{"p":"f","s":"SM","a":240,"g":-8.4},{"p":"f","s":"SM","a":250,"g":-8},{"p":"f","s":"SM","a":260,"g":-7.5},{"p":"f","s":"SM","a":270,"g":-7},{"p":"f","s":"SM","a":280,"g":-6.3},{"p":"f","s":"SM","a":290,"g":-5.5},{"p":"f","s":"SM","a":300,"g":-4.6},{"p":"f","s":"SM","a":310,"g":-3.5},{"p":"f","s":"SM","a":320,"g":-2.4},{"p":"f","s":"SM","a":330,"g":-1.4},{"p":"f","s":"SM","a":340,"g":-0.6},{"p":"f","s":"SM","a":350,"g":-0.2},{"p":"f","s":"SM","a":360,"g":0},
{"p":"f","s":"MM","a":0,"g":0},{"p":"f","s":"MM","a":10,"g":-0.2},{"p":"f","s":"MM","a":20,"g":-0.5},{"p":"f","s":"MM","a":30,"g":-1},{"p":"f","s":"MM","a":40,"g":-1.8},{"p":"f","s":"MM","a":50,"g":-2.8},{"p":"f","s":"MM","a":60,"g":-3.8},{"p":"f","s":"MM","a":70,"g":-5},{"p":"f","s":"MM","a":80,"g":-6},{"p":"f","s":"MM","a":90,"g":-7},{"p":"f","s":"MM","a":100,"g":-7.6},{"p":"f","s":"MM","a":110,"g":-8},{"p":"f","s":"MM","a":120,"g":-8.3},{"p":"f","s":"MM","a":130,"g":-8.5},{"p":"f","s":"MM","a":140,"g":-8.6},{"p":"f","s":"MM","a":150,"g":-8.6},{"p":"f","s":"MM","a":160,"g":-8.5},{"p":"f","s":"MM","a":170,"g":-8.4},{"p":"f","s":"MM","a":180,"g":-8.3},{"p":"f","s":"MM","a":190,"g":-8.2},{"p":"f","s":"MM","a":200,"g":-8.1},{"p":"f","s":"MM","a":210,"g":-8},{"p":"f","s":"MM","a":220,"g":-7.8},{"p":"f","s":"MM","a":230,"g":-7.5},{"p":"f","s":"MM","a":240,"g":-7.2},{"p":"f","s":"MM","a":250,"g":-6.8},{"p":"f","s":"MM","a":260,"g":-6.3},{"p":"f","s":"MM","a":270,"g":-5.8},{"p":"f","s":"MM","a":280,"g":-5.2},{"p":"f","s":"MM","a":290,"g":-4.5},{"p":"f","s":"MM","a":300,"g":-3.7},{"p":"f","s":"MM","a":310,"g":-2.8},{"p":"f","s":"MM","a":320,"g":-1.9},{"p":"f","s":"MM","a":330,"g":-1.1},{"p":"f","s":"MM","a":340,"g":-0.5},{"p":"f","s":"MM","a":350,"g":-0.2},{"p":"f","s":"MM","a":360,"g":0},
{"p":"f","s":"SX","a":0,"g":-36},{"p":"f","s":"SX","a":10,"g":-31},{"p":"f","s":"SX","a":20,"g":-25},{"p":"f","s":"SX","a":30,"g":-22},{"p":"f","s":"SX","a":40,"g":-20.3},{"p":"f","s":"SX","a":50,"g":-19.2},{"p":"f","s":"SX","a":60,"g":-19},{"p":"f","s":"SX","a":70,"g":-20.3},{"p":"f","s":"SX","a":80,"g":-21},{"p":"f","s":"SX","a":90,"g":-21},{"p":"f","s":"SX","a":100,"g":-21.8},{"p":"f","s":"SX","a":110,"g":-22},{"p":"f","s":"SX","a":120,"g":-22.5},{"p":"f","s":"SX","a":130,"g":-23},{"p":"f","s":"SX","a":140,"g":-24.5},{"p":"f","s":"SX","a":150,"g":-26},{"p":"f","s":"SX","a":160,"g":-28.5},{"p":"f","s":"SX","a":170,"g":-38},{"p":"f","s":"SX","a":180,"g":-45},{"p":"f","s":"SX","a":190,"g":-38},{"p":"f","s":"SX","a":200,"g":-29},{"p":"f","s":"SX","a":210,"g":-27},{"p":"f","s":"SX","a":220,"g":-25.3},{"p":"f","s":"SX","a":230,"g":-24},{"p":"f","s":"SX","a":240,"g":-22.3},{"p":"f","s":"SX","a":250,"g":-22},{"p":"f","s":"SX","a":260,"g":-21.8},{"p":"f","s":"SX","a":270,"g":-21.8},{"p":"f","s":"SX","a":280,"g":-21.2},{"p":"f","s":"SX","a":290,"g":-20.5},{"p":"f","s":"SX","a":300,"g":-20},{"p":"f","s":"SX","a":310,"g":-19.7},{"p":"f","s":"SX","a":320,"g":-19.7},{"p":"f","s":"SX","a":330,"g":-20.2},{"p":"f","s":"SX","a":340,"g":-24},{"p":"f","s":"SX","a":350,"g":-31},{"p":"f","s":"SX","a":360,"g":-36},
{"p":"f","s":"MX","a":0,"g":-22},{"p":"f","s":"MX","a":10,"g":-18.2},{"p":"f","s":"MX","a":20,"g":-17.2},{"p":"f","s":"MX","a":30,"g":-16.3},{"p":"f","s":"MX","a":40,"g":-16.3},{"p":"f","s":"MX","a":50,"g":-17.5},{"p":"f","s":"MX","a":60,"g":-19},{"p":"f","s":"MX","a":70,"g":-22},{"p":"f","s":"MX","a":80,"g":-25},{"p":"f","s":"MX","a":90,"g":-25},{"p":"f","s":"MX","a":100,"g":-22},{"p":"f","s":"MX","a":110,"g":-20},{"p":"f","s":"MX","a":120,"g":-18.8},{"p":"f","s":"MX","a":130,"g":-18.6},{"p":"f","s":"MX","a":140,"g":-19},{"p":"f","s":"MX","a":150,"g":-19.2},{"p":"f","s":"MX","a":160,"g":-20.5},{"p":"f","s":"MX","a":170,"g":-22.8},{"p":"f","s":"MX","a":180,"g":-32},{"p":"f","s":"MX","a":190,"g":-25.5},{"p":"f","s":"MX","a":200,"g":-20},{"p":"f","s":"MX","a":210,"g":-18},{"p":"f","s":"MX","a":220,"g":-16.8},{"p":"f","s":"MX","a":230,"g":-17},{"p":"f","s":"MX","a":240,"g":-17.4},{"p":"f","s":"MX","a":250,"g":-18.5},{"p":"f","s":"MX","a":260,"g":-18.5},{"p":"f","s":"MX","a":270,"g":-18.2},{"p":"f","s":"MX","a":280,"g":-17.9},{"p":"f","s":"MX","a":290,"g":-17.4},{"p":"f","s":"MX","a":300,"g":-17.2},{"p":"f","s":"MX","a":310,"g":-18.4},{"p":"f","s":"MX","a":320,"g":-20.8},{"p":"f","s":"MX","a":330,"g":-24},{"p":"f","s":"MX","a":340,"g":-27.5},{"p":"f","s":"MX","a":350,"g":-29},{"p":"f","s":"MX","a":360,"g":-22}
]},
"vconcat":[
{
"data":{"name":"d"},
"transform":[
 {"calculate":"sin(datum.a*PI/180)","as":"u"},
 {"calculate":"cos(datum.a*PI/180)","as":"v"},
 {"calculate":"max(0,datum.g+50)","as":"r"},
 {"calculate":"datum.r*datum.u","as":"x"},
 {"calculate":"datum.r*datum.v","as":"y"},
 {"calculate":"datum.a%30==0?((datum.p=='b'||datum.p=='f')?10:0):20","as":"r0"},
 {"calculate":"datum.r0*datum.u","as":"x0"},
 {"calculate":"datum.r0*datum.v","as":"y0"},
 {"calculate":"50*datum.u","as":"x1"},
 {"calculate":"50*datum.v","as":"y1"},
 {"calculate":"45.5*datum.u","as":"tx"},
 {"calculate":"45.5*datum.v","as":"ty"},
 {"calculate":"59.5*datum.u","as":"lx"},
 {"calculate":"59.5*datum.v","as":"ly"},
 {"calculate":"datum.a+'°'","as":"t"}
],
"facet":{"field":"p","type":"nominal","header":{"title":null,"labelOrient":"bottom","labelPadding":35,"labelExpr":"['(a) 2.37 GHz处E面方向图','(b) 2.37 GHz处H面方向图','(c) 2.9 GHz处E面方向图','(d) 2.9 GHz处H面方向图','(e) 3.45 GHz处E面方向图','(f) 3.45 GHz处H面方向图'][indexof(['a','b','c','d','e','f'],datum.value)]"}},
"columns":2,
"spacing":{"column":46,"row":33},
"resolve":{"axis":{"y":"independent"}},
"spec":{"width":324,"height":232,"layer":[
 {"transform":[{"filter":"datum.k=='R'"}],
  "mark":{"type":"point","shape":"M-1.0743,0A1.0743,1,0,1,1,1.0743,0A1.0743,1,0,1,1,-1.0743,0Z","filled":false,"opacity":1},
  "encoding":{
   "x":{"datum":0,"type":"quantitative","scale":{"domain":[-80,50],"nice":false,"zero":false},"axis":null},
   "y":{"datum":0,"type":"quantitative","scale":{"domain":[-50,50],"nice":false,"zero":false},"axis":{"title":"增益/dB","values":[-50,-40,-30,-20,-10,0,10,20,30,40,50],"tickCount":11,"labelExpr":"format(abs(datum.value)-50,'d')","labelOverlap":false,"offset":-29}},
   "size":{"field":"r","type":"quantitative","scale":{"type":"pow","exponent":2,"domain":[0,50],"range":[0,53824]},"legend":null},
   "stroke":{"condition":{"test":"datum.g==0","value":"#1a1a1a"},"value":"#b4b4b4"},
   "strokeWidth":{"condition":{"test":"datum.g==0","value":1.4},"value":1}}},
 {"transform":[{"filter":"datum.k=='S'&&datum.a%30!=0"}],
  "mark":{"type":"rule","stroke":"#c6c6c6","strokeDash":[5,4],"strokeWidth":1},
  "encoding":{"x":{"field":"x0","type":"quantitative"},"y":{"field":"y0","type":"quantitative"},"x2":{"field":"x1"},"y2":{"field":"y1"}}},
 {"transform":[{"filter":"datum.k=='S'&&datum.a%30==0"}],
  "mark":{"type":"rule","stroke":"#a2a2a2","strokeWidth":1},
  "encoding":{"x":{"field":"x0","type":"quantitative"},"y":{"field":"y0","type":"quantitative"},"x2":{"field":"x1"},"y2":{"field":"y1"}}},
 {"transform":[{"filter":"datum.k=='S'&&datum.a%30==0"}],
  "mark":{"type":"rule","stroke":"#1a1a1a","strokeWidth":1.2},
  "encoding":{"x":{"field":"tx","type":"quantitative"},"y":{"field":"ty","type":"quantitative"},"x2":{"field":"x1"},"y2":{"field":"y1"}}},
 {"transform":[{"filter":"datum.k=='S'&&datum.a%30==0"}],
  "mark":{"type":"text","fontSize":17,"font":"Liberation Serif","color":"#222","align":"center","baseline":"middle"},
  "encoding":{"x":{"field":"lx","type":"quantitative"},"y":{"field":"ly","type":"quantitative"},"text":{"field":"t"}}},
 {"transform":[{"filter":"datum.s"}],
  "mark":{"type":"line","interpolate":"catmull-rom","strokeWidth":1.2},
  "encoding":{"x":{"field":"x","type":"quantitative"},"y":{"field":"y","type":"quantitative"},"order":{"field":"a","type":"quantitative"},
   "stroke":{"field":"s","type":"nominal","scale":{"domain":["SM","MM","SX","MX"],"range":["#e8161e","#2874d8","#f27cf0","#2e9f5e"]},"legend":null}}},
 {"transform":[{"filter":"datum.s=='SM'&&datum.a<360&&(datum.p!='c'||datum.a%20==0)"}],
  "mark":{"type":"point","shape":"circle","filled":true,"color":"#e8161e","size":55,"opacity":1},
  "encoding":{"x":{"field":"x","type":"quantitative"},"y":{"field":"y","type":"quantitative"}}},
 {"transform":[{"filter":"datum.s=='MM'&&datum.a<360&&(datum.p!='c'||datum.a%20==0)"}],
  "mark":{"type":"point","shape":"triangle-up","filled":true,"color":"#2874d8","size":55,"opacity":1},
  "encoding":{"x":{"field":"x","type":"quantitative"},"y":{"field":"y","type":"quantitative"}}},
 {"transform":[{"filter":"datum.s=='SX'&&datum.a<360"}],
  "mark":{"type":"point","shape":"square","filled":true,"color":"#f27cf0","size":40,"opacity":1},
  "encoding":{"x":{"field":"x","type":"quantitative"},"y":{"field":"y","type":"quantitative"}}},
 {"transform":[{"filter":"datum.s=='MX'&&datum.a<360"}],
  "mark":{"type":"point","shape":"M-1,0A1,1,0,1,1,1,0A1,1,0,1,1,-1,0Z","filled":true,"fill":"white","stroke":"#2e9f5e","strokeWidth":1,"size":70,"opacity":1},
  "encoding":{"x":{"field":"x","type":"quantitative"},"y":{"field":"y","type":"quantitative"}}},
 {"transform":[{"filter":"datum.s=='MX'&&datum.a<360"}],
  "mark":{"type":"point","shape":"M-1,0A1,1,0,0,1,1,0Z","filled":true,"color":"#2e9f5e","size":70,"opacity":1},
  "encoding":{"x":{"field":"x","type":"quantitative"},"y":{"field":"y","type":"quantitative"}}}
]}
},
{
"data":{"name":"L"},
"transform":[{"calculate":"datum.src+datum.pol","as":"lab"}],
"width":347,"height":23,
"layer":[
 {"mark":{"type":"point","filled":true,"opacity":1,"size":100,"strokeWidth":0},
  "encoding":{
   "x":{"field":"src","type":"nominal","scale":{"type":"point","domain":["仿真","实测"],"padding":0.4229,"align":0},"axis":null},
   "y":{"field":"pol","type":"nominal","scale":{"type":"point","domain":["主极化","交叉极化"],"padding":0},"axis":null},
   "shape":{"field":"s","type":"nominal","scale":{"domain":["SM","MM","SX","MX"],"range":["M-4,-0.15H4V0.15H-4ZM-0.9,0A0.9,0.9,0,1,1,0.9,0A0.9,0.9,0,1,1,-0.9,0Z","M-4,-0.15H4V0.15H-4ZM0,-1L0.95,0.65L-0.95,0.65Z","M-4,-0.15H4V0.15H-4ZM-0.7,-0.7H0.7V0.7H-0.7Z","M-4,-0.15H-0.9V0.15H-4ZM0.9,-0.15H4V0.15H0.9ZM-0.9,0A0.9,0.9,0,0,1,0.9,0ZM-0.9,0A0.9,0.9,0,0,0,0.9,0L0.76,0A0.76,0.76,0,0,1,-0.76,0Z"]},"legend":null},
   "fill":{"field":"s","type":"nominal","scale":{"domain":["SM","MM","SX","MX"],"range":["#e8161e","#2874d8","#f27cf0","#2e9f5e"]},"legend":null}}},
 {"mark":{"type":"text","align":"left","baseline":"middle","dx":32,"fontSize":17,"font":"Noto Sans CJK SC","color":"#222"},
  "encoding":{
   "x":{"field":"src","type":"nominal","axis":null},
   "y":{"field":"pol","type":"nominal","axis":null},
   "text":{"field":"lab"}}}
]
}
],
"spacing":41,
"center":true
}
